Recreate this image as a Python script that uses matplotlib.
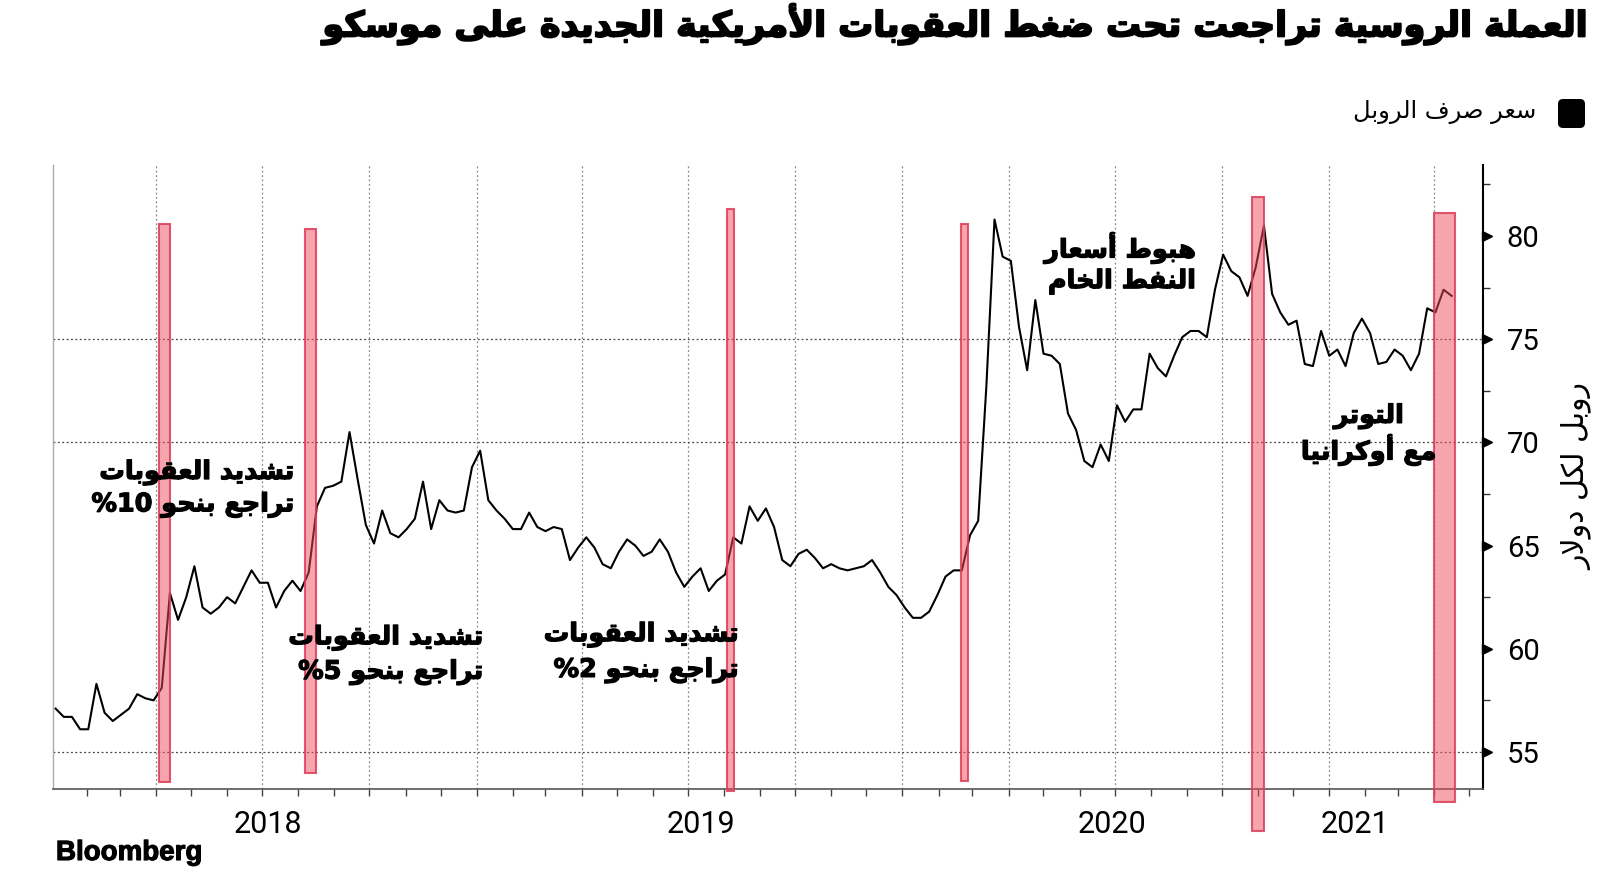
import re
import pandas as pd
import matplotlib
matplotlib.use('Agg')
import matplotlib.pyplot as plt
import matplotlib.dates as mdates
import matplotlib.patheffects as pe
from matplotlib.colors import to_rgba
from matplotlib.patches import FancyBboxPatch
from matplotlib.transforms import IdentityTransform
from matplotlib.ticker import MultipleLocator

# weekly USD/RUB level, first week ends Fri 5 Jan 2018
rub = [57.1, 56.7, 56.7, 56.1, 56.1, 58.3, 56.9, 56.5, 56.8, 57.1,
       57.8, 57.6, 57.5, 58.1, 62.7, 61.4, 62.5, 64.0, 62.0, 61.7,
       62.0, 62.5, 62.2, 63.0, 63.8, 63.2, 63.2, 62.0, 62.8, 63.3,
       62.8, 63.7, 66.9, 67.8, 67.9, 68.1, 70.5, 68.2, 66.0, 65.1,
       66.7, 65.6, 65.4, 65.8, 66.3, 68.1, 65.8, 67.2, 66.7, 66.6,
       66.7, 68.8, 69.6, 67.2, 66.7, 66.3, 65.8, 65.8, 66.6, 65.9,
       65.7, 65.9, 65.8, 64.3, 64.9, 65.4, 64.9, 64.1, 63.9, 64.7,
       65.3, 65.0, 64.5, 64.7, 65.3, 64.7, 63.7, 63.0, 63.5, 63.9,
       62.8, 63.3, 63.6, 65.4, 65.1, 66.9, 66.2, 66.8, 65.9, 64.3,
       64.0, 64.6, 64.8, 64.4, 63.9, 64.1, 63.9, 63.8, 63.9, 64.0,
       64.3, 63.7, 63.0, 62.6, 62.0, 61.5, 61.5, 61.8, 62.6, 63.5,
       63.8, 63.8, 65.5, 66.2, 72.7, 80.8, 79.0, 78.8, 75.6, 73.5,
       76.9, 74.3, 74.2, 73.8, 71.4, 70.6, 69.1, 68.8, 69.9, 69.1,
       71.8, 71.0, 71.6, 71.6, 74.3, 73.6, 73.2, 74.2, 75.1, 75.4,
       75.4, 75.1, 77.4, 79.1, 78.3, 78.0, 77.1, 78.5, 80.5, 77.2,
       76.3, 75.7, 75.9, 73.8, 73.7, 75.4, 74.2, 74.5, 73.7, 75.3,
       76.0, 75.3, 73.8, 73.9, 74.5, 74.2, 73.5, 74.3, 76.5, 76.3,
       77.4, 77.1]
dates = pd.date_range('2018-01-05', periods=len(rub), freq='7D')

# shaded event windows
bar_start = ['2018-04-04', '2018-08-07', '2019-08-04', '2020-02-20', '2020-10-27', '2021-04-01']
bar_days = [9.2, 9.2, 5.7, 6.5, 9.7, 17.4]
bar_low = [53.55, 53.98, 53.11, 53.60, 51.18, 52.57]
bar_high = [80.56, 80.36, 81.30, 80.58, 81.89, 81.14]

notes = [('تشديد العقوبات', 'تراجع بنحو 10%'),
         ('تشديد العقوبات', 'تراجع بنحو 5%'),
         ('تشديد العقوبات', 'تراجع بنحو 2%'),
         ('هبوط أسعار', 'النفط الخام'),
         ('التوتر', 'مع أوكرانيا')]
note_x = ['2018-07-29', '2019-01-07', '2019-08-14', '2020-09-09', '2021-02-04']
note_y1 = [68.54, 60.53, 60.68, 79.42, 71.26]
note_y2 = [66.97, 58.86, 58.95, 77.79, 69.63]
note_ha = ['right', 'right', 'right', 'right', 'center']

y_ticks = [55, 60, 65, 70, 75, 80]
grid_y = [55, 70, 75]
year_labels = ['2018', '2019', '2020', '2021']
year_label_at = ['2018-07-06', '2019-07-12', '2020-06-29', '2021-01-23']

title_txt = 'العملة الروسية تراجعت تحت ضغط العقوبات الأمريكية الجديدة على موسكو'
legend_txt = 'سعر صرف الروبل'
ylabel_txt = 'روبل لكل دولار'

# --- minimal arabic shaping (matplotlib does no shaping / bidi) ---
_base = {'ء': 0xFE80, 'آ': 0xFE81, 'أ': 0xFE83, 'ؤ': 0xFE85, 'إ': 0xFE87, 'ئ': 0xFE89,
         'ا': 0xFE8D, 'ب': 0xFE8F, 'ة': 0xFE93, 'ت': 0xFE95, 'ث': 0xFE99, 'ج': 0xFE9D,
         'ح': 0xFEA1, 'خ': 0xFEA5, 'د': 0xFEA9, 'ذ': 0xFEAB, 'ر': 0xFEAD, 'ز': 0xFEAF,
         'س': 0xFEB1, 'ش': 0xFEB5, 'ص': 0xFEB9, 'ض': 0xFEBD, 'ط': 0xFEC1, 'ظ': 0xFEC5,
         'ع': 0xFEC9, 'غ': 0xFECD, 'ف': 0xFED1, 'ق': 0xFED5, 'ك': 0xFED9, 'ل': 0xFEDD,
         'م': 0xFEE1, 'ن': 0xFEE5, 'ه': 0xFEE9, 'و': 0xFEED, 'ى': 0xFEEF, 'ي': 0xFEF1}
_right = set('آأؤإاةدذرزوى')
_lamalef = {'آ': 0xFEF5, 'أ': 0xFEF7, 'إ': 0xFEF9, 'ا': 0xFEFB}


def shape(text):
    toks = []
    i = 0
    while i < len(text):
        if text[i] == 'ل' and i + 1 < len(text) and text[i + 1] in _lamalef:
            toks.append(('LA', text[i + 1]))
            i += 2
        else:
            toks.append((text[i], None))
            i += 1

    def joins_next(t):
        return t[0] in _base and t[0] not in _right and t[0] != 'ء'

    def joinable(t):
        return t[0] == 'LA' or (t[0] in _base and t[0] != 'ء')

    out = []
    for j, t in enumerate(toks):
        p = j > 0 and joins_next(toks[j - 1]) and joinable(t)
        if t[0] == 'LA':
            out.append(chr(_lamalef[t[1]] + (1 if p else 0)))
            continue
        if t[0] not in _base:
            out.append(t[0])
            continue
        n = joins_next(t) and j + 1 < len(toks) and joinable(toks[j + 1])
        out.append(chr(_base[t[0]] + [[0, 2], [1, 3]][p][n]))
    return ''.join(out)


def ar(text):
    s = shape(text)[::-1]
    return re.sub(r'[0-9A-Za-z]+', lambda m: m.group(0)[::-1], s)


def heavy(w):
    return [pe.withStroke(linewidth=w, foreground='black')]


plt.rcParams['font.family'] = ['DejaVu Sans']

fig = plt.figure(figsize=(16, 8.94), dpi=100)
ax = fig.add_axes([0.0333, 0.1171, 0.8937, 0.6978])

ax.plot(dates, rub, color='black', lw=1.5, zorder=3)

bar_h = [h - l for h, l in zip(bar_high, bar_low)]
ax.bar(pd.to_datetime(bar_start), bar_h, width=bar_days, bottom=bar_low, align='edge',
       color=to_rgba('#ef4b5f', 0.5), edgecolor=to_rgba('#dc3c55', 0.85), linewidth=1.5,
       clip_on=False, zorder=4)

ax.set_xlim(pd.Timestamp('2018-01-03'), pd.Timestamp('2021-05-13'))
ax.set_ylim(53.19, 83.42)

# grid
for q in pd.date_range('2018-04-01', '2021-04-01', freq='QS'):
    ax.axvline(q, color='#8a8a8a', lw=0.9, ls=(0, (1.5, 2)), zorder=1)
for v in grid_y:
    ax.axhline(v, color='#444444', lw=0.9, ls=(0, (1.5, 2)), zorder=1)

# spines
ax.spines['top'].set_visible(False)
ax.spines['left'].set_color('#aaaaaa')
ax.spines['left'].set_linewidth(1)
ax.spines['bottom'].set_color('#555555')
ax.spines['bottom'].set_linewidth(1.2)
ax.spines['right'].set_color('black')
ax.spines['right'].set_linewidth(1.5)

# y axis on the right
ax.yaxis.tick_right()
ax.set_yticks(y_ticks, labels=[str(v) for v in y_ticks], fontsize=21, fontfamily='Roboto')
ax.yaxis.set_minor_locator(MultipleLocator(2.5))
ax.tick_params(axis='y', which='major', length=0, pad=17)
ax.tick_params(axis='y', which='minor', length=5, width=1, color='#333333')
ax.plot([1.0028] * len(y_ticks), y_ticks, transform=ax.get_yaxis_transform(),
        ls='none', marker='>', ms=7, color='black', clip_on=False, zorder=5)

# x axis
ax.set_xticks(pd.to_datetime(year_label_at), labels=year_labels, fontsize=22, fontfamily='Roboto')
ax.xaxis.set_minor_locator(mdates.MonthLocator())
ax.tick_params(axis='x', which='major', length=0, pad=15)
ax.tick_params(axis='x', which='minor', length=5, width=1, color='#444444')

# annotations
note_texts = []
for (l1, l2), x, y1, y2, ha in zip(notes, note_x, note_y1, note_y2, note_ha):
    xd = pd.Timestamp(x)
    for txt, y in ((l1, y1), (l2, y2)):
        note_texts.append(ax.text(xd, y, ar(txt), ha=ha, va='center', fontsize=20,
                                  fontweight='bold', color='black', zorder=6))

title = fig.text(0.9917, 1 - 24 / 894, ar(title_txt), ha='right', va='center',
                 fontsize=30, fontweight='bold')
leg = fig.text(0.96, 1 - 112 / 894, ar(legend_txt), ha='right', va='center', fontsize=16)
fig.add_artist(FancyBboxPatch((1558, 894 - 128), 27, 29, boxstyle='round,pad=0,rounding_size=5',
                              facecolor='black', edgecolor='none', transform=IdentityTransform()))
ylab = fig.text(0.9856, 1 - 477 / 894, ar(ylabel_txt), rotation=90, ha='center', va='center',
                fontsize=16)
brand = fig.text(0.035, 1 - 853 / 894, 'Bloomberg', ha='left', va='center', fontsize=20,
                 fontweight='bold', fontfamily='Liberation Sans')

fig.canvas.draw()
r = fig.canvas.get_renderer()


def fit(t, px):
    bb = t.get_window_extent(r)
    t.set_fontsize(t.get_fontsize() * px / max(bb.width, bb.height))


fit(title, 1264)
fit(leg, 184)
fit(ylab, 188)
fit(brand, 146)
fit(note_texts[0], 195)
for t in note_texts[1:]:
    t.set_fontsize(note_texts[0].get_fontsize())

title.set_path_effects(heavy(1.4))
for t in note_texts:
    t.set_path_effects(heavy(0.9))
brand.set_path_effects(heavy(0.8))

fig.savefig('out.png', dpi=100)
